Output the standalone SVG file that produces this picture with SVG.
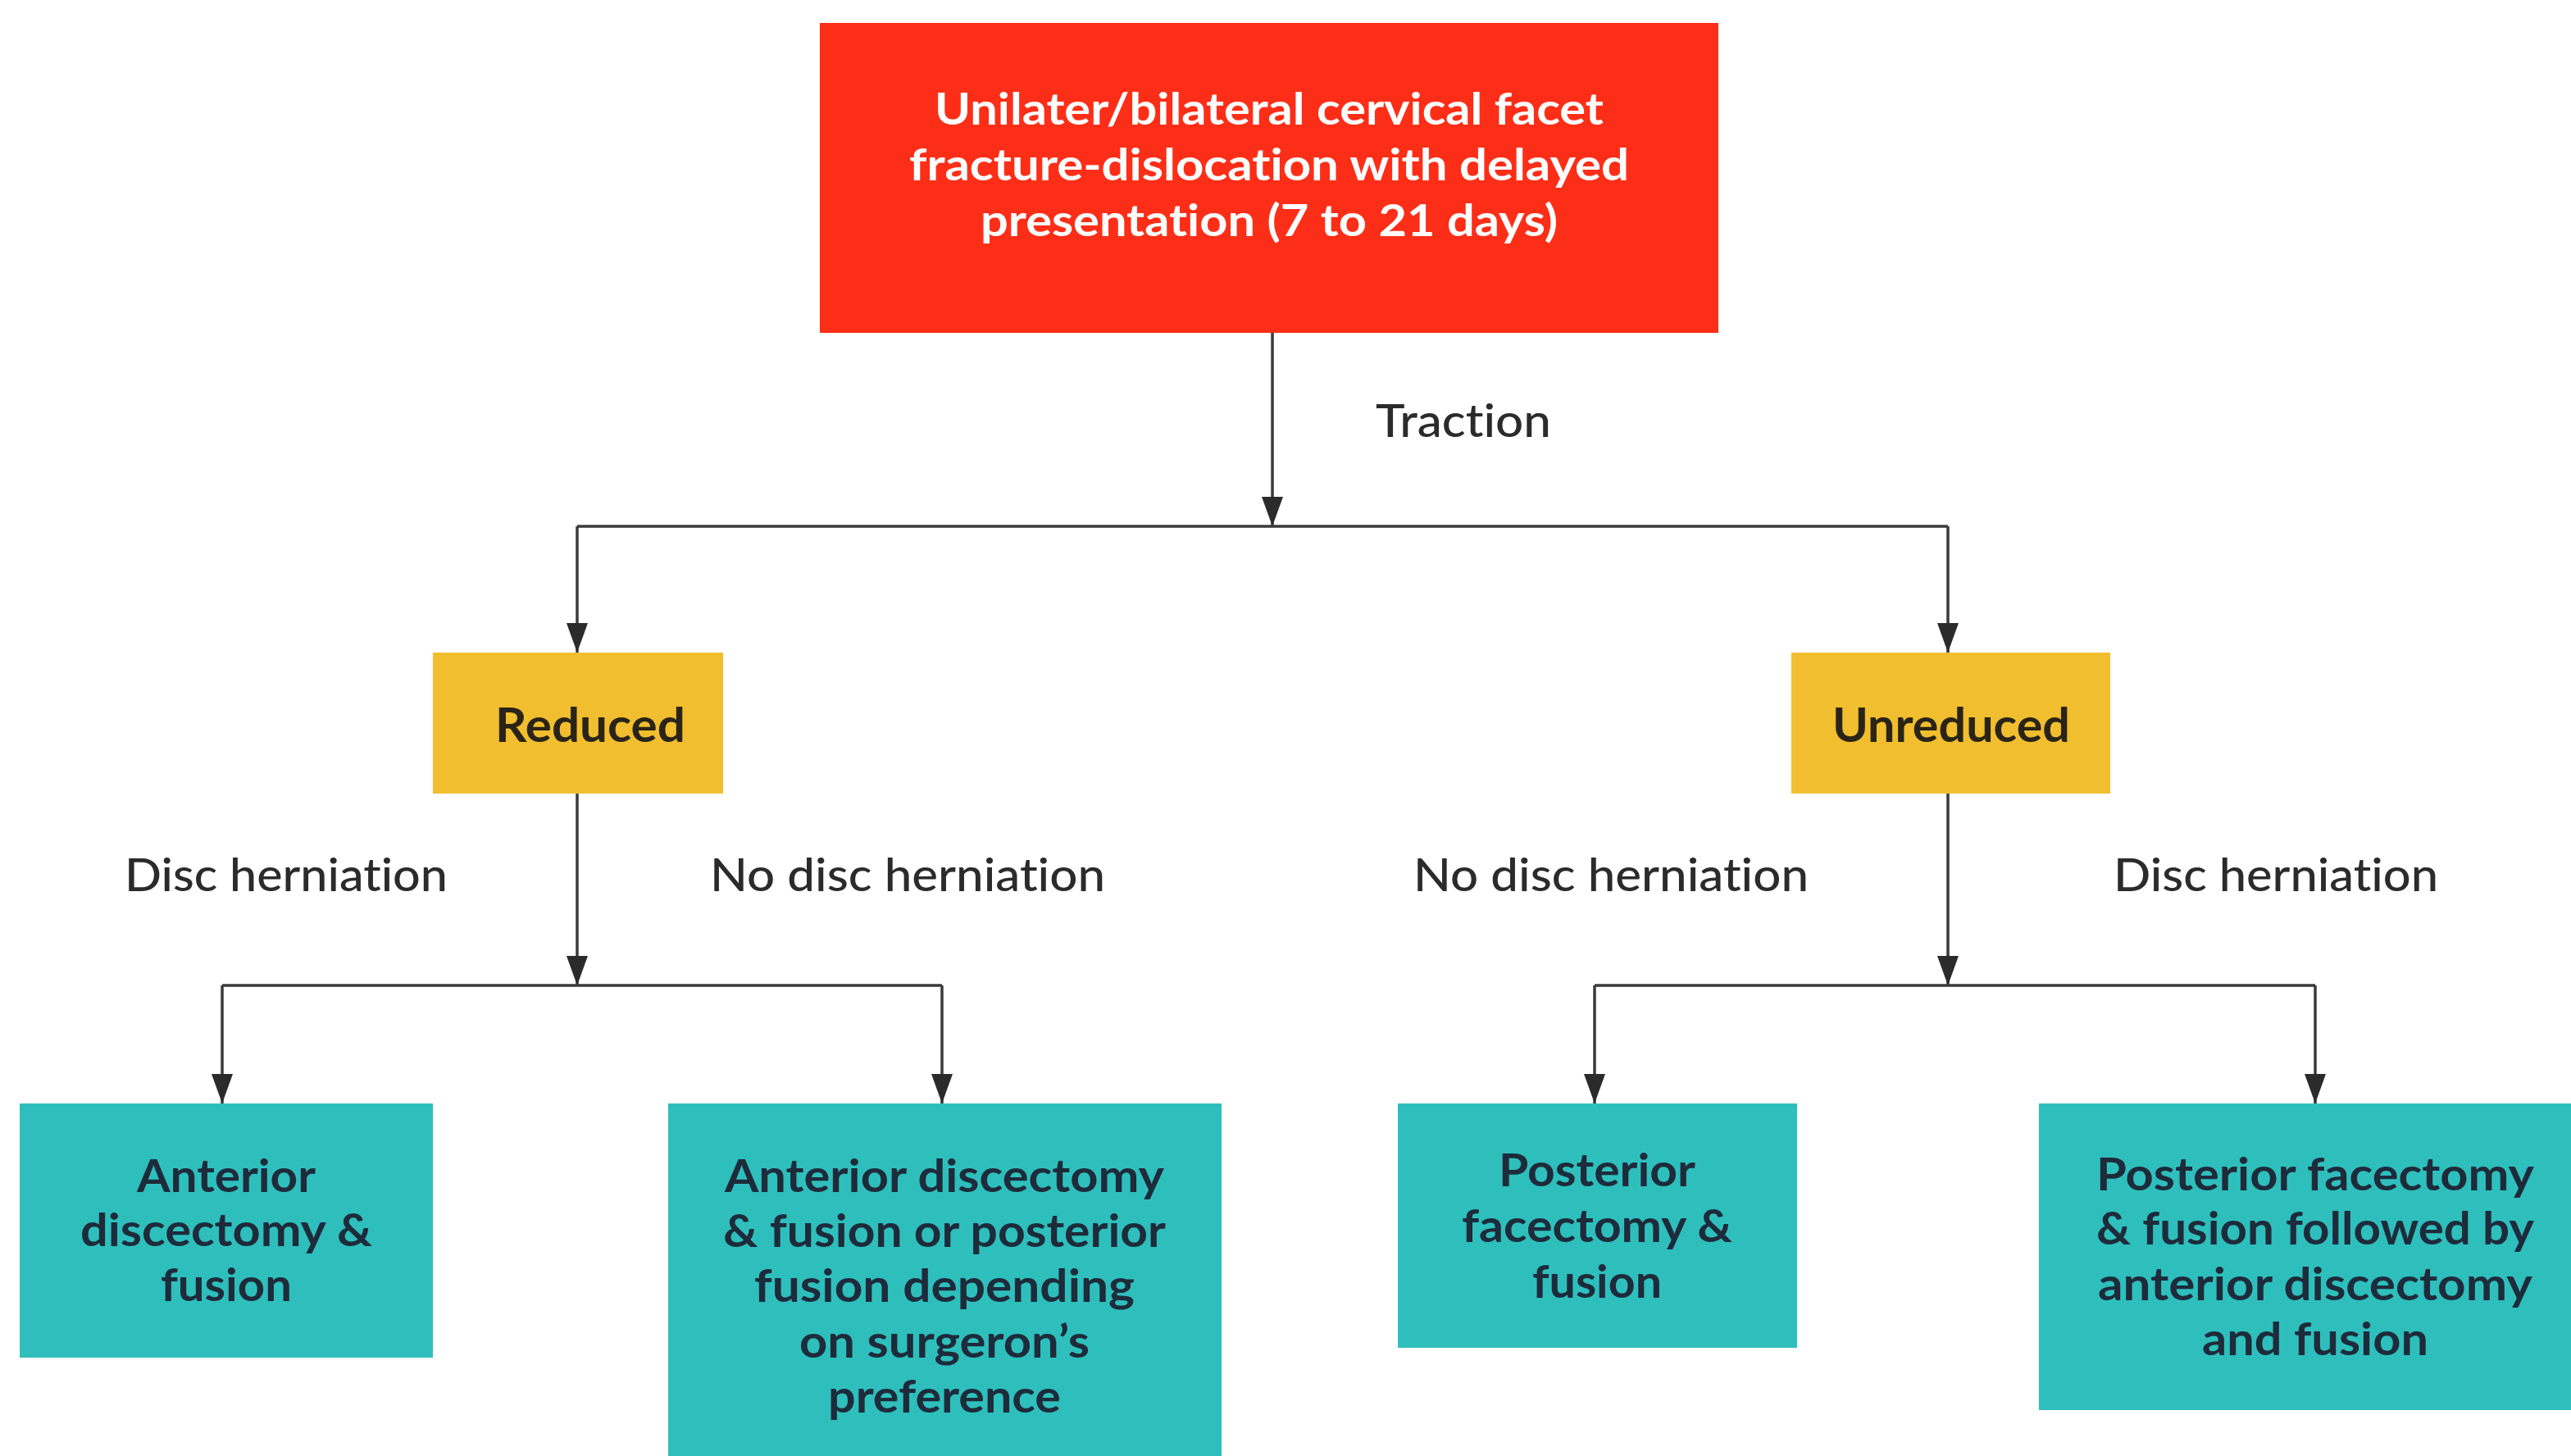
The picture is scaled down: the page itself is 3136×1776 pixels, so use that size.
<svg xmlns="http://www.w3.org/2000/svg" width="3136" height="1776" viewBox="0 0 3136 1776">
<style>
.bg{fill:#ffffff}
.red{fill:#FD2E17}
.yel{fill:#F1BE2F}
.teal{fill:#2EBFBD}
.conn{stroke:#3a3a3a;stroke-width:3.5;fill:none}
text{font-family:Lato,"Noto Sans",sans-serif;font-variant-ligatures:none}
.ttop{font-weight:700;font-size:54px;fill:#ffffff;text-anchor:middle}
.tyel{font-weight:700;font-size:58px;fill:#2a2417;text-anchor:middle}
.tleaf{font-weight:700;font-size:56px;fill:#1d2b3a;text-anchor:middle}
.lbl{font-weight:500;font-size:56px;fill:#2b2b2b}
</style>
<defs>
<marker id="arr" viewBox="0 0 36 26" refX="36" refY="13" markerWidth="36" markerHeight="26" markerUnits="userSpaceOnUse" orient="auto">
<path d="M0,0 L36,13 L0,26 z" fill="#2b2b2b"/>
</marker>
</defs>
<rect class="bg" x="0" y="0" width="3136" height="1776"/>
<g id="connectors">
<line class="conn" x1="1552" y1="406" x2="1552" y2="642" marker-end="url(#arr)"/>
<line class="conn" x1="704" y1="642" x2="2376" y2="642"/>
<line class="conn" x1="704" y1="642" x2="704" y2="796" marker-end="url(#arr)"/>
<line class="conn" x1="2376" y1="642" x2="2376" y2="796" marker-end="url(#arr)"/>
<line class="conn" x1="704" y1="968" x2="704" y2="1202" marker-end="url(#arr)"/>
<line class="conn" x1="271" y1="1202" x2="1149" y2="1202"/>
<line class="conn" x1="271" y1="1202" x2="271" y2="1346" marker-end="url(#arr)"/>
<line class="conn" x1="1149" y1="1202" x2="1149" y2="1346" marker-end="url(#arr)"/>
<line class="conn" x1="2376" y1="968" x2="2376" y2="1202" marker-end="url(#arr)"/>
<line class="conn" x1="1945" y1="1202" x2="2824" y2="1202"/>
<line class="conn" x1="1945" y1="1202" x2="1945" y2="1346" marker-end="url(#arr)"/>
<line class="conn" x1="2824" y1="1202" x2="2824" y2="1346" marker-end="url(#arr)"/>
<text class="lbl" x="1678" y="533" textLength="214" lengthAdjust="spacingAndGlyphs">Traction</text>
<text class="lbl" x="152" y="1087" textLength="394" lengthAdjust="spacingAndGlyphs">Disc herniation</text>
<text class="lbl" x="866" y="1087" textLength="482" lengthAdjust="spacingAndGlyphs">No disc herniation</text>
<text class="lbl" x="1724" y="1087" textLength="482" lengthAdjust="spacingAndGlyphs">No disc herniation</text>
<text class="lbl" x="2578" y="1087" textLength="396" lengthAdjust="spacingAndGlyphs">Disc herniation</text>
</g>
<g id="node-top">
<rect class="red" x="1000" y="28" width="1096" height="378"/>
<text class="ttop" x="1548" y="152" textLength="816" lengthAdjust="spacingAndGlyphs">Unilater/bilateral cervical facet</text>
<text class="ttop" x="1548" y="220" textLength="878" lengthAdjust="spacingAndGlyphs">fracture-dislocation with delayed</text>
<text class="ttop" x="1548" y="288" textLength="704" lengthAdjust="spacingAndGlyphs">presentation (7 to 21 days)</text>
</g>
<g id="node-reduced">
<rect class="yel" x="528" y="796" width="354" height="172"/>
<text class="tyel" x="720" y="905" textLength="232" lengthAdjust="spacingAndGlyphs">Reduced</text>
</g>
<g id="node-unreduced">
<rect class="yel" x="2185" y="796" width="389" height="172"/>
<text class="tyel" x="2380" y="905" textLength="290" lengthAdjust="spacingAndGlyphs">Unreduced</text>
</g>
<g id="node-leaf1">
<rect class="teal" x="24" y="1346" width="504" height="310"/>
<text class="tleaf" x="276" y="1454" textLength="218" lengthAdjust="spacingAndGlyphs">Anterior</text>
<text class="tleaf" x="276" y="1520" textLength="356" lengthAdjust="spacingAndGlyphs">discectomy &amp;</text>
<text class="tleaf" x="276" y="1587" textLength="160" lengthAdjust="spacingAndGlyphs">fusion</text>
</g>
<g id="node-leaf2">
<rect class="teal" x="815" y="1346" width="675" height="430"/>
<text class="tleaf" x="1152" y="1454" textLength="536" lengthAdjust="spacingAndGlyphs">Anterior discectomy</text>
<text class="tleaf" x="1152" y="1521" textLength="540" lengthAdjust="spacingAndGlyphs">&amp; fusion or posterior</text>
<text class="tleaf" x="1152" y="1588" textLength="464" lengthAdjust="spacingAndGlyphs">fusion depending</text>
<text class="tleaf" x="1152" y="1656" textLength="354" lengthAdjust="spacingAndGlyphs">on surgeron’s</text>
<text class="tleaf" x="1152" y="1723" textLength="284" lengthAdjust="spacingAndGlyphs">preference</text>
</g>
<g id="node-leaf3">
<rect class="teal" x="1705" y="1346" width="487" height="298"/>
<text class="tleaf" x="1948" y="1447" textLength="240" lengthAdjust="spacingAndGlyphs">Posterior</text>
<text class="tleaf" x="1948" y="1515" textLength="330" lengthAdjust="spacingAndGlyphs">facectomy &amp;</text>
<text class="tleaf" x="1948" y="1583" textLength="158" lengthAdjust="spacingAndGlyphs">fusion</text>
</g>
<g id="node-leaf4">
<rect class="teal" x="2487" y="1346" width="649" height="374"/>
<text class="tleaf" x="2824" y="1452" textLength="534" lengthAdjust="spacingAndGlyphs">Posterior facectomy</text>
<text class="tleaf" x="2824" y="1518" textLength="534" lengthAdjust="spacingAndGlyphs">&amp; fusion followed by</text>
<text class="tleaf" x="2824" y="1586" textLength="530" lengthAdjust="spacingAndGlyphs">anterior discectomy</text>
<text class="tleaf" x="2824" y="1653" textLength="276" lengthAdjust="spacingAndGlyphs">and fusion</text>
</g>
</svg>
